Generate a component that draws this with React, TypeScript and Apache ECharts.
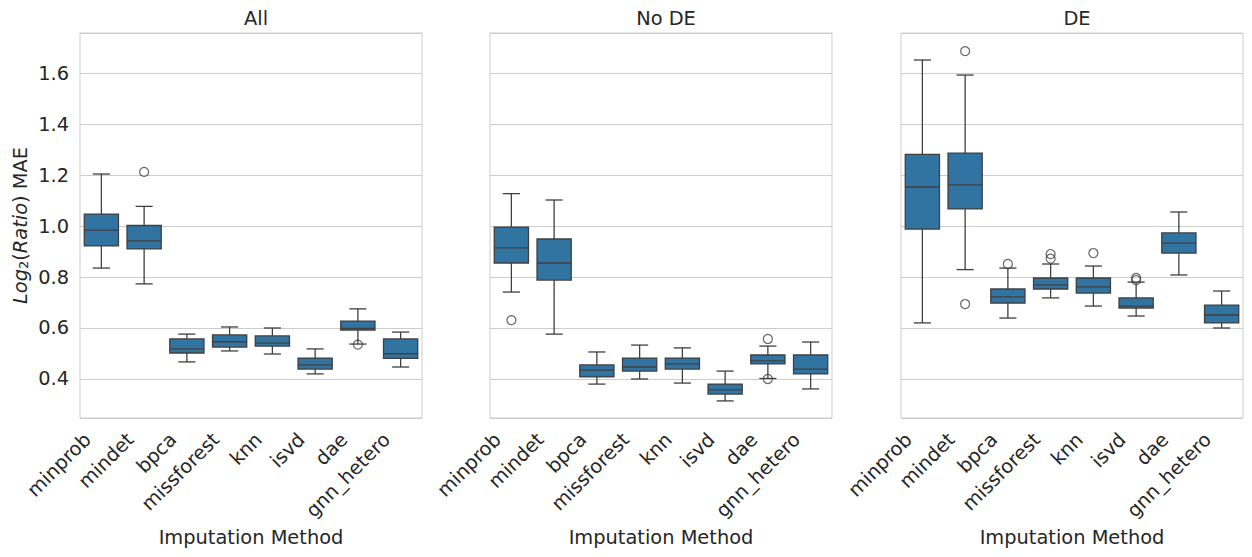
import React, { useEffect, useRef } from "react";
import * as echarts from "echarts";

const methods = ["minprob", "mindet", "bpca", "missforest", "knn", "isvd", "dae", "gnn_hetero"];
const panelTitles = ["All", "No DE", "DE"];
const yTicks = [0.4, 0.6, 0.8, 1.0, 1.2, 1.4, 1.6];

// [low whisker, q1, median, q3, high whisker]
const statsAll = [
  [0.835, 0.922, 0.984, 1.047, 1.204],
  [0.773, 0.910, 0.942, 1.002, 1.077],
  [0.467, 0.502, 0.518, 0.557, 0.576],
  [0.510, 0.525, 0.546, 0.573, 0.604],
  [0.498, 0.529, 0.541, 0.569, 0.600],
  [0.420, 0.439, 0.455, 0.482, 0.518],
  [0.537, 0.592, 0.598, 0.627, 0.675],
  [0.447, 0.481, 0.499, 0.557, 0.584],
];
const statsNoDE = [
  [0.741, 0.855, 0.914, 0.996, 1.127],
  [0.576, 0.788, 0.855, 0.949, 1.102],
  [0.380, 0.408, 0.435, 0.455, 0.506],
  [0.400, 0.431, 0.447, 0.482, 0.533],
  [0.384, 0.439, 0.459, 0.482, 0.522],
  [0.314, 0.341, 0.357, 0.380, 0.431],
  [0.402, 0.459, 0.471, 0.494, 0.529],
  [0.361, 0.420, 0.439, 0.494, 0.545],
];
const statsDE = [
  [0.620, 0.988, 1.153, 1.281, 1.651],
  [0.829, 1.067, 1.161, 1.286, 1.592],
  [0.639, 0.698, 0.722, 0.753, 0.835],
  [0.718, 0.753, 0.769, 0.796, 0.851],
  [0.686, 0.737, 0.761, 0.796, 0.843],
  [0.647, 0.678, 0.686, 0.718, 0.780],
  [0.808, 0.894, 0.933, 0.973, 1.055],
  [0.600, 0.620, 0.651, 0.690, 0.745],
];
// [method index, value]
const outliersAll = [[1, 1.212], [6, 0.535]];
const outliersNoDE = [[0, 0.631], [6, 0.557], [6, 0.400]];
const outliersDE = [
  [1, 1.686], [1, 0.694], [2, 0.851], [3, 0.890], [3, 0.872],
  [4, 0.894], [5, 0.796], [5, 0.788],
];

const panels = [
  { stats: statsAll, outliers: outliersAll },
  { stats: statsNoDE, outliers: outliersNoDE },
  { stats: statsDE, outliers: outliersDE },
];

const gridLefts = [80, 490, 901];
const gridWidth = 342;
const gridTop = 33;
const gridHeight = 385;
const TEXT = "#262626";
const LINE = "#3f3f3f";
const BOX = "#3274a1";
const FONT = "DejaVu Sans";
const FS = 19.4;

export default function App() {
  const ref = useRef<HTMLDivElement>(null);
  useEffect(() => {
    if (!ref.current) return;
    const chart = echarts.init(ref.current, null, { renderer: "svg" });

    const renderBox = (params: any, api: any) => {
      const x = api.value(0);
      const lo = api.coord([x, api.value(1)]);
      const q1 = api.coord([x, api.value(2)]);
      const md = api.coord([x, api.value(3)]);
      const q3 = api.coord([x, api.value(4)]);
      const hi = api.coord([x, api.value(5)]);
      const bw = api.size([1, 0])[0] * 0.8;
      const cx = lo[0];
      const lineStyle = { stroke: LINE, lineWidth: 1.3 };
      return {
        type: "group",
        children: [
          { type: "line", shape: { x1: cx, y1: lo[1], x2: cx, y2: q1[1] }, style: lineStyle },
          { type: "line", shape: { x1: cx, y1: q3[1], x2: cx, y2: hi[1] }, style: lineStyle },
          { type: "line", shape: { x1: cx - bw / 4, y1: lo[1], x2: cx + bw / 4, y2: lo[1] }, style: lineStyle },
          { type: "line", shape: { x1: cx - bw / 4, y1: hi[1], x2: cx + bw / 4, y2: hi[1] }, style: lineStyle },
          {
            type: "rect",
            shape: { x: cx - bw / 2, y: q3[1], width: bw, height: q1[1] - q3[1] },
            style: { fill: BOX, stroke: LINE, lineWidth: 1.3 },
          },
          { type: "line", shape: { x1: cx - bw / 2, y1: md[1], x2: cx + bw / 2, y2: md[1] }, style: lineStyle },
        ],
      };
    };

    const grids = gridLefts.map((l) => ({
      left: l,
      top: gridTop,
      width: gridWidth,
      height: gridHeight,
      show: true,
      borderColor: "#cccccc",
      borderWidth: 1,
      containLabel: false,
    }));

    const isTick = (v: number) => yTicks.some((t) => Math.abs(t - v) < 1e-6);

    const xAxes = gridLefts.map((_, i) => ({
      type: "category",
      gridIndex: i,
      data: methods,
      boundaryGap: true,
      axisLine: { show: false },
      axisTick: { show: false },
      splitLine: { show: false },
      axisLabel: {
        rotate: 45,
        fontSize: FS,
        color: TEXT,
        fontFamily: FONT,
        margin: 18,
        interval: 0,
        verticalAlign: "bottom",
        padding: [0, 10, 0, 0],
      },
      name: "Imputation Method",
      nameLocation: "middle",
      nameGap: 109,
      nameTextStyle: { fontSize: FS, color: TEXT, fontFamily: FONT },
    }));

    const yAxes = gridLefts.map((_, i) => ({
      type: "value",
      gridIndex: i,
      min: 0.247,
      max: 1.757,
      splitNumber: 8,
      axisLine: { show: false },
      axisTick: { show: false },
      splitLine: { show: true, lineStyle: { color: "#cccccc", width: 1 } },
      axisLabel: {
        show: i === 0,
        fontSize: FS,
        color: TEXT,
        fontFamily: FONT,
        margin: 11,
        showMinLabel: false,
        showMaxLabel: false,
        formatter: (v: number) => (isTick(v) ? v.toFixed(1) : ""),
      },
      name: i === 0 ? "{i|Log}{s|2}{n|(}{i|Ratio}{n|) MAE}" : "",
      nameLocation: "middle",
      nameGap: 50,
      nameRotate: 90,
      nameTextStyle: {
        fontSize: FS,
        color: TEXT,
        fontFamily: FONT,
        rich: {
          i: { fontSize: FS, fontStyle: "italic", color: TEXT, fontFamily: FONT },
          s: { fontSize: 13, color: TEXT, fontFamily: FONT, verticalAlign: "bottom", padding: [7, 0, 0, 0] },
          n: { fontSize: FS, color: TEXT, fontFamily: FONT },
        },
      },
    }));

    const series: any[] = [];
    panels.forEach((p, i) => {
      series.push({
        type: "custom",
        xAxisIndex: i,
        yAxisIndex: i,
        renderItem: renderBox,
        encode: { x: 0, y: [1, 2, 3, 4, 5] },
        data: p.stats.map((s, k) => [k, ...s]),
        z: 2,
      });
      series.push({
        type: "scatter",
        xAxisIndex: i,
        yAxisIndex: i,
        symbol: "circle",
        symbolSize: 9,
        itemStyle: { color: "rgba(0,0,0,0)", borderColor: LINE, borderWidth: 1.2 },
        data: p.outliers.map((o) => [o[0], o[1]]),
        z: 3,
      });
    });

    chart.setOption({
      animation: false,
      backgroundColor: "#ffffff",
      title: panelTitles.map((t, i) => ({
        text: t,
        left: gridLefts[i] + gridWidth / 2,
        top: 4,
        textAlign: "center",
        textStyle: { fontSize: FS, fontWeight: "normal", color: TEXT, fontFamily: FONT },
      })),
      grid: grids,
      xAxis: xAxes,
      yAxis: yAxes,
      series,
    });
    return () => chart.dispose();
  }, []);
  return (
    <div
      ref={ref}
      style={{ position: "absolute", left: 0, top: 0, width: 1252, height: 557 }}
    />
  );
}
